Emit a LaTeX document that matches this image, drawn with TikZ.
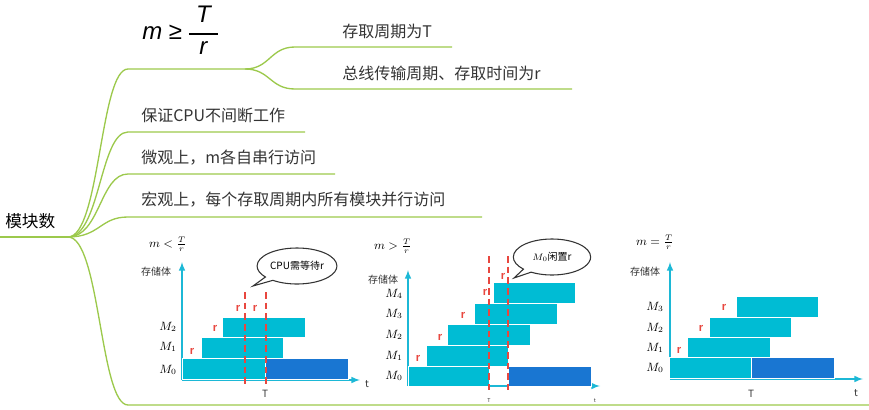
\documentclass[tikz,border=0pt]{standalone}
\usepackage{fontspec}
\setmainfont{Noto Sans CJK SC}
\newfontfamily\fsans{Liberation Sans}
\usetikzlibrary{shapes.callouts}
\definecolor{br}{HTML}{9CC94C}
\definecolor{cy}{HTML}{00BCD4}
\definecolor{bl}{HTML}{1976D2}
\definecolor{rd}{HTML}{E8473F}
\definecolor{ax}{HTML}{1CB8D6}
\begin{document}
\begin{tikzpicture}[x=0.75pt,y=-0.75pt,
  brl/.style={draw=br,line width=1pt},
  txt/.style={anchor=west,inner sep=0pt,font=\fontsize{12}{13}\selectfont,text=black!80},
  bx/.style={fill=cy,draw=white,line width=0.4pt},
  bxb/.style={fill=bl,draw=white,line width=0.4pt},
  ax/.style={draw=ax,line width=1.2pt,-latex},
  dl/.style={draw=rd,dashed,line width=1.1pt,dash pattern=on 5pt off 3pt},
  rl/.style={text=rd,font=\fsans\bfseries\fontsize{8.5}{9}\selectfont,inner sep=0pt},
  ml/.style={font=\fontsize{9}{10}\selectfont,inner sep=0pt},
  sl/.style={font=\fontsize{7.5}{8}\selectfont,inner sep=0pt,text=black!80},
  co/.style={ellipse callout,draw=black!80,line width=0.8pt,fill=white,font=\fontsize{7.5}{8}\selectfont,minimum width=58pt,minimum height=27pt,inner sep=1pt}]
\useasboundingbox (0,0) rectangle (869,410);
% mind map
\node[anchor=west,inner sep=0pt,font=\fontsize{12.5}{14}\selectfont] (root) at (5,221) {模块数};
\coordinate (r0) at (0,237); \coordinate (rj) at (68,237);
\draw[brl] (r0) -- (rj);
\foreach \y/\e in {69/245,132/305,174/335,217/482}{
  \draw[brl] (rj) .. controls (100,237) and (100,\y) .. (128,\y) -- (\e,\y);}
\draw[brl] (rj) .. controls (100,237) and (100,405) .. (128,405) -- (869,405);
\coordinate (mj) at (245,69);
\draw[brl] (mj) .. controls (270,69) and (270,47) .. (295,47) -- (452,47);
\draw[brl] (mj) .. controls (270,69) and (270,89) .. (295,89) -- (572,89);
\node[anchor=west,inner sep=0pt,font=\fsans\itshape\fontsize{18}{18}\selectfont] (mf) at (142,34) {m {\upshape≥} \begin{tabular}{@{}c@{}}T\\[-9pt]\rule{22pt}{1.2pt}\\[-3pt] r\end{tabular}};
\node[txt] (t1) at (342,31) {存取周期为T};
\node[txt] (t2) at (342,73) {总线传输周期、存取时间为r};
\node[txt] (t3) at (141,115) {保证CPU不间断工作};
\node[txt] (t4) at (141,158) {微观上，m各自串行访问};
\node[txt] (t5) at (141,200) {宏观上，每个存取周期内所有模块并行访问};
% chart 1
\node[ml] (c1) at (168,244) {$m<\frac{T}{r}$};
\node[sl] (s1) at (156,272) {存储体};
\coordinate (o1) at (182,380);
\draw[ax] (o1) -- (182,262); \draw[ax] (o1) -- (360,380);
\draw[bx] (182,358) rectangle (265,379); \draw[bxb] (265,358) rectangle (348,379);
\draw[bx] (201,337) rectangle (283,358);
\draw[bx] (222,317) rectangle (305,337);
\draw[dl] (245,292) -- (245,385); \draw[dl] (266,292) -- (266,385);
\node[ml] at (168,370) {$M_0$}; \node[ml] at (168,347) {$M_1$}; \node[ml] at (168,327) {$M_2$};
\node[rl] at (192,351) {r}; \node[rl] at (215,328) {r}; \node[rl] at (238,308) {r}; \node[rl] at (255,308) {r};
\node[sl] at (265,394) {T}; \node[sl] at (367,384) {t};
\node[co,callout absolute pointer={(253,286)}] (k1) at (297,266) {CPU需等待r};
% chart 2
\node[ml] (c2) at (393,246) {$m>\frac{T}{r}$};
\node[sl] (s2) at (383,280) {存储体};
\coordinate (o2) at (408,386);
\draw[ax] (o2) -- (408,270); \draw[ax] (o2) -- (600,386);
\draw[bx] (408,366) rectangle (489,386); \draw[bxb] (508,366) rectangle (591,386);
\draw[bx] (426,345) rectangle (508,366);
\draw[bx] (447,324) rectangle (530,345);
\draw[bx] (474,303) rectangle (557,324);
\draw[bx] (493,282) rectangle (575,303);
\draw[dl] (489,256) -- (489,390); \draw[dl] (508,256) -- (508,390);
\foreach \i/\y in {0/376,1/356,2/335,3/314,4/294}{\node[ml] at (394,\y) {$M_\i$};}
\node[rl] at (418,358) {r}; \node[rl] at (440,337) {r}; \node[rl] at (463,315) {r}; \node[rl] at (485,292) {r}; \node[rl] at (503,276) {r};
\node[sl,font=\fontsize{4}{5}\selectfont] at (489,401) {T}; \node[sl,font=\fontsize{4}{5}\selectfont] at (595,401) {t};
\node[co,callout absolute pointer={(514,278)}] (k2) at (552,257) {$M_0$闲置r};
% chart 3
\node[ml] (c3) at (655,242) {$m=\frac{T}{r}$};
\node[sl] (s3) at (645,272) {存储体};
\coordinate (o3) at (670,379);
\draw[ax] (o3) -- (670,262); \draw[ax] (o3) -- (863,379);
\draw[bx] (669,357) rectangle (751,378); \draw[bxb] (751,357) rectangle (834,378);
\draw[bx] (687,337) rectangle (770,357);
\draw[bx] (709,317) rectangle (791,337);
\draw[bx] (736,296) rectangle (818,317);
\foreach \i/\y in {0/368,1/348,2/328,3/307}{\node[ml] at (655,\y) {$M_\i$};}
\node[rl] at (679,350) {r}; \node[rl] at (701,328) {r}; \node[rl] at (724,307) {r};
\node[sl] at (751,394) {T}; \node[sl] at (856,393) {t};
\end{tikzpicture}
\end{document}
